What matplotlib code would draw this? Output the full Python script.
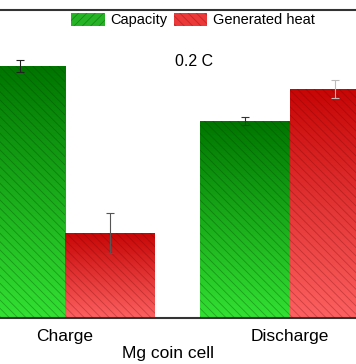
import numpy as np
import matplotlib
matplotlib.use("Agg")
import matplotlib.pyplot as plt
from matplotlib.patches import Patch
from matplotlib.colors import LinearSegmentedColormap

categories = ["Charge", "Discharge"]
capacity = [81.8, 64.0]
capacity_err = [1.9, 1.3]
heat = [27.6, 74.4]
heat_err = [6.5, 2.9]
series_labels = ["Capacity", "Generated heat"]

plt.rcParams['font.family'] = ['Liberation Sans', 'DejaVu Sans']
plt.rcParams['hatch.linewidth'] = 0.6

fig = plt.figure(figsize=(3.56, 3.64), dpi=100)
ax = fig.add_axes([0, 46/364, 1, (318-10)/364])

x = np.arange(len(categories))
w = 0.4

green_cmap = LinearSegmentedColormap.from_list("g", [(0.0, 0.46, 0.0), (0.2, 0.88, 0.2)])
red_cmap = LinearSegmentedColormap.from_list("r", [(0.78, 0.02, 0.02), (0.99, 0.38, 0.38)])

def grad_bars(xs, vals, cmap, hatch_col):
    bars = ax.bar(xs, vals, w, facecolor='none', edgecolor=hatch_col,
                  linewidth=0, hatch='\\\\\\\\', zorder=3)
    for b in bars:
        x0, y0 = b.get_x(), b.get_y()
        bw, bh = b.get_width(), b.get_height()
        grad = np.linspace(0, 1, 256).reshape(-1, 1)
        im = ax.imshow(grad, cmap=cmap, aspect='auto',
                       extent=[x0, x0 + bw, y0, y0 + bh], origin='lower', zorder=2)
        im.set_clip_path(b)
    return bars

grad_bars(x - w/2, capacity, green_cmap.reversed(), (0, 0.25, 0, 0.35))
grad_bars(x + w/2, heat, red_cmap.reversed(), (0.4, 0, 0, 0.3))

err_cols_c = ['#222222', '#333333']
err_cols_h = ['#555555', '#bbbbbb']
for i in range(len(categories)):
    ax.errorbar(x[i] - w/2, capacity[i], yerr=capacity_err[i], fmt='none',
                ecolor=err_cols_c[i], elinewidth=0.8, capsize=3, capthick=0.8, zorder=4)
    ax.errorbar(x[i] + w/2, heat[i], yerr=heat_err[i], fmt='none',
                ecolor=err_cols_h[i], elinewidth=0.8, capsize=3, capthick=0.8, zorder=4)

ax.set_xlim(-65/225, (356-65)/225)
ax.set_ylim(0, 100)
ax.set_xticks(x)
ax.set_xticklabels(categories, fontsize=12.5)
ax.tick_params(axis='x', length=0, pad=8)
ax.set_yticks([])
ax.spines['left'].set_visible(False)
ax.spines['right'].set_visible(False)
for s in ['top', 'bottom']:
    ax.spines[s].set_color('#333333')
    ax.spines[s].set_linewidth(1.5)
ax.set_xlabel("Mg coin cell", fontsize=12.5, labelpad=2)
ax.xaxis.set_label_coords(168/356, -0.09)

ax.text(194/356, 1 - (61-10)/308, "0.2 C", transform=ax.transAxes,
        ha='center', va='center', fontsize=11.5)

handles = [Patch(facecolor=(0.15, 0.7, 0.15), edgecolor=(0, 0.3, 0, 0.4), linewidth=0, hatch='////'),
           Patch(facecolor=(0.92, 0.22, 0.22), edgecolor=(0.4, 0, 0, 0.3), linewidth=0, hatch='\\\\\\\\')]
ax.legend(handles, series_labels, ncol=2, frameon=False, fontsize=10.5,
          loc='upper center', bbox_to_anchor=(193/356, 1.0),
          handlelength=2.3, handleheight=1.0, handletextpad=0.4, columnspacing=0.4,
          borderaxespad=0.1, borderpad=0.1)

fig.savefig("out.png", dpi=100)
